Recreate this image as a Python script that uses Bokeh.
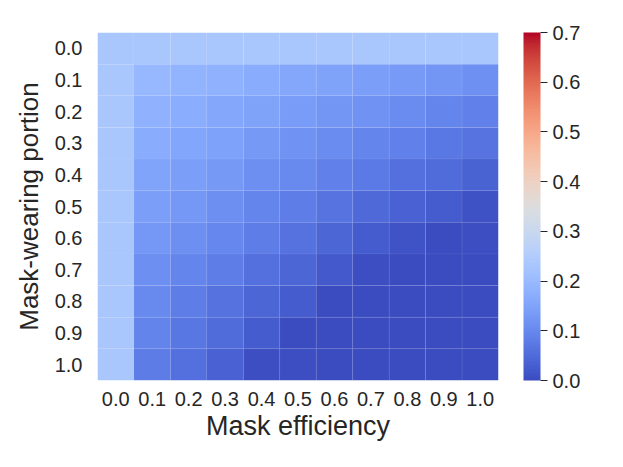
from bokeh.plotting import figure
from bokeh.models import LinearColorMapper, ColorBar, FixedTicker, ColumnDataSource, PrintfTickFormatter
from bokeh.embed import file_html
from bokeh.resources import INLINE

# ---- data ----
efficiency = ["0.0", "0.1", "0.2", "0.3", "0.4", "0.5", "0.6", "0.7", "0.8", "0.9", "1.0"]
portion = ["0.0", "0.1", "0.2", "0.3", "0.4", "0.5", "0.6", "0.7", "0.8", "0.9", "1.0"]

row_00 = [0.23, 0.23, 0.23, 0.23, 0.23, 0.23, 0.23, 0.23, 0.23, 0.23, 0.23]
row_01 = [0.23, 0.195, 0.185, 0.18, 0.168, 0.158, 0.148, 0.14, 0.132, 0.125, 0.113]
row_02 = [0.23, 0.18, 0.172, 0.158, 0.148, 0.135, 0.125, 0.115, 0.105, 0.095, 0.085]
row_03 = [0.23, 0.168, 0.155, 0.145, 0.13, 0.118, 0.105, 0.095, 0.085, 0.073, 0.065]
row_04 = [0.23, 0.153, 0.14, 0.13, 0.112, 0.102, 0.086, 0.074, 0.06, 0.05, 0.037]
row_05 = [0.23, 0.142, 0.127, 0.11, 0.095, 0.082, 0.063, 0.047, 0.035, 0.025, 0.01]
row_06 = [0.23, 0.127, 0.112, 0.097, 0.08, 0.062, 0.042, 0.025, 0.012, 0.0, 0.003]
row_07 = [0.23, 0.112, 0.095, 0.08, 0.058, 0.042, 0.023, 0.003, 0.001, 0.001, 0.002]
row_08 = [0.23, 0.102, 0.082, 0.062, 0.042, 0.025, 0.002, 0.001, 0.001, 0.001, 0.002]
row_09 = [0.23, 0.092, 0.07, 0.05, 0.027, 0.002, 0.001, 0.001, 0.001, 0.001, 0.002]
row_10 = [0.23, 0.078, 0.058, 0.035, 0.005, 0.003, 0.001, 0.001, 0.001, 0.001, 0.002]
rows = [row_00, row_01, row_02, row_03, row_04, row_05, row_06, row_07, row_08, row_09, row_10]

cbar_ticks = [0.0, 0.1, 0.2, 0.3, 0.4, 0.5, 0.6, 0.7]

# ---- coolwarm palette (matplotlib anchor colours) ----
anchors = [
    (0.2298057, 0.298717966, 0.753683153), (0.26623388, 0.353094838, 0.801466763),
    (0.30386891, 0.406535296, 0.84495867), (0.342804478, 0.458757618, 0.883725899),
    (0.38301334, 0.50941904, 0.917387822), (0.424369608, 0.558148092, 0.945619588),
    (0.46666708, 0.604562568, 0.968154911), (0.509635204, 0.648280772, 0.98478814),
    (0.552953156, 0.688929332, 0.995375608), (0.596262162, 0.726149107, 0.999836203),
    (0.639176211, 0.759599947, 0.998151185), (0.681291281, 0.788964712, 0.990363227),
    (0.722193294, 0.813952739, 0.976574709), (0.761464949, 0.834302879, 0.956945269),
    (0.798691636, 0.849786142, 0.931688648), (0.833466556, 0.860207984, 0.901068838),
    (0.865395197, 0.86541021, 0.865395561), (0.897787179, 0.848937047, 0.820880546),
    (0.924127593, 0.827384882, 0.774508472), (0.944468518, 0.800927443, 0.726736146),
    (0.958852946, 0.769767752, 0.678007945), (0.96732803, 0.734132809, 0.628751763),
    (0.969954137, 0.694266682, 0.579375448), (0.966811177, 0.650421156, 0.530263762),
    (0.958003065, 0.602842431, 0.481775914), (0.943660866, 0.551750968, 0.434243684),
    (0.923944917, 0.49730856, 0.387970225), (0.89904617, 0.439559467, 0.343229596),
    (0.869186849, 0.378313092, 0.300267182), (0.834620542, 0.312874446, 0.259301199),
    (0.795631745, 0.24128379, 0.220525627), (0.752534934, 0.157246067, 0.184115123),
    (0.705673158, 0.01555616, 0.150232812),
]
palette = []
n = 256
for i in range(n):
    t = i / (n - 1) * (len(anchors) - 1)
    k = min(int(t), len(anchors) - 2)
    f = t - k
    c = [anchors[k][j] * (1 - f) + anchors[k + 1][j] * f for j in range(3)]
    palette.append("#%02x%02x%02x" % tuple(int(round(v * 255)) for v in c))

mapper = LinearColorMapper(palette=palette, low=0.0, high=0.7)

xs, ys, vs = [], [], []
for r, yl in enumerate(portion):
    for c, xl in enumerate(efficiency):
        xs.append(xl)
        ys.append(yl)
        vs.append(rows[r][c])
source = ColumnDataSource(dict(x=xs, y=ys, v=vs))

FONT = "Liberation Sans"
TXT = "#262626"

p = figure(x_range=efficiency, y_range=list(reversed(portion)),
           frame_width=401, frame_height=348,
           min_border_left=97, min_border_top=32, min_border_bottom=70, min_border_right=20,
           output_backend="svg", toolbar_location=None)
p.rect(x="x", y="y", width=1, height=1, source=source,
       fill_color={"field": "v", "transform": mapper},
       line_color="white", line_alpha=0.05, line_width=1)

p.outline_line_color = None
p.grid.grid_line_color = None
for ax in (p.xaxis[0], p.yaxis[0]):
    ax.axis_line_color = None
    ax.major_tick_line_color = None
    ax.minor_tick_line_color = None
    ax.major_tick_out = 0
    ax.major_tick_in = 0
    ax.major_label_text_font = FONT
    ax.major_label_text_font_size = "20px"
    ax.major_label_text_color = TXT
    ax.axis_label_text_font = FONT
    ax.axis_label_text_font_style = "normal"
    ax.axis_label_text_color = TXT
p.xaxis.axis_label_text_font_size = "27px"
p.yaxis.axis_label_text_font_size = "26px"
p.xaxis.axis_label = "Mask efficiency"
p.yaxis.axis_label = "Mask-wearing portion"
p.xaxis.major_label_standoff = 11
p.yaxis.major_label_standoff = 15
p.xaxis.axis_label_standoff = 2
p.yaxis.axis_label_standoff = 8
p.yaxis.major_label_orientation = "horizontal"

cb = ColorBar(color_mapper=mapper, ticker=FixedTicker(ticks=cbar_ticks),
              formatter=PrintfTickFormatter(format="%.1f"),
              width=17, height=348, padding=0, margin=0, location=(25, 0),
              major_tick_in=0, major_tick_out=7, major_tick_line_color=TXT,
              minor_tick_line_color=None, bar_line_color=None,
              major_label_text_font=FONT, major_label_text_font_size="20px",
              major_label_text_color=TXT, label_standoff=5,
              background_fill_alpha=0, border_line_color=None)
p.add_layout(cb, "right")

open("out.html", "w").write(file_html(p, INLINE))
